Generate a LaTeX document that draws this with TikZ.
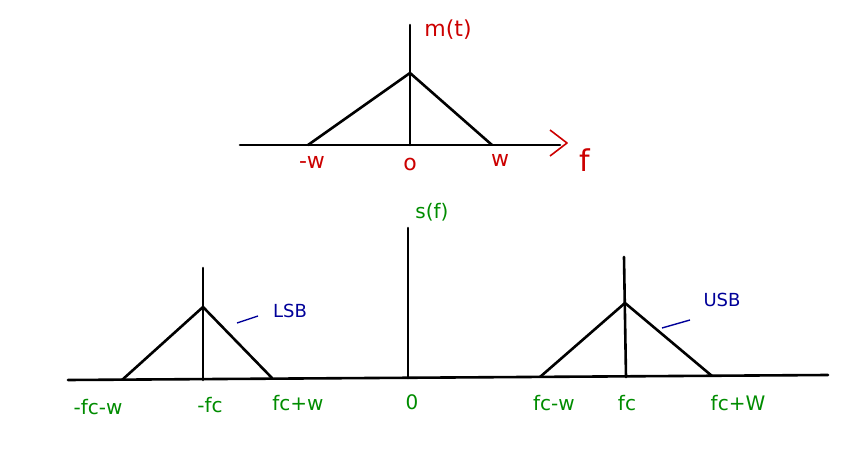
\documentclass[tikz,border=0pt]{standalone}
\usepackage{fontspec}
\setmainfont{DejaVu Sans}
\begin{document}
\begin{tikzpicture}[x=1pt,y=-1pt,
  ln/.style={line width=2.6pt,line join=round,line cap=round},
  rl/.style={text=red!80!black,font=\fontsize{22}{24}\selectfont},
  gl/.style={text=green!55!black,font=\fontsize{20}{22}\selectfont},
  bl/.style={text=blue!60!black,font=\fontsize{18}{20}\selectfont}]
\useasboundingbox (0,0) rectangle (860,449);
% top spectrum
\coordinate (ta) at (240,145); \coordinate (tb) at (560,145);
\draw[ln] (ta) -- (tb);
\coordinate (v1) at (410,25); \coordinate (v2) at (410,145);
\draw[ln] (v1) -- (v2);
\coordinate (t1) at (308,145); \coordinate (t2) at (410,73); \coordinate (t3) at (492,145);
\draw[ln] (t1) -- (t2) -- (t3);
\coordinate (r1) at (550,130); \coordinate (r2) at (567,143); \coordinate (r3) at (550,156);
\draw[red!80!black,line width=1.6pt,line join=round] (r1) -- (r2) -- (r3);
\node[rl,font=\fontsize{30}{32}\selectfont] (f) at (585,160) {f};
\node[rl] (m) at (448,30) {m(t)};
\node[rl] (mw) at (312,162) {-w};
\node[rl] (o) at (410,164) {o};
\node[rl] (w) at (500,160) {w};
% bottom spectrum
\coordinate (ba) at (68,380); \coordinate (bb) at (828,375);
\draw[ln] (ba) -- (bb);
\coordinate (c1) at (408,228); \coordinate (c2) at (408,378);
\draw[ln] (c1) -- (c2);
\coordinate (l1) at (122,380); \coordinate (l2) at (203,307); \coordinate (l3) at (272,378);
\draw[ln] (l1) -- (l2) -- (l3);
\coordinate (lv1) at (203,268); \coordinate (lv2) at (203,380);
\draw[ln] (lv1) -- (lv2);
\coordinate (u1) at (540,377); \coordinate (u2) at (625,303); \coordinate (u3) at (712,376);
\draw[ln] (u1) -- (u2) -- (u3);
\coordinate (uv1) at (624,257); \coordinate (uv2) at (626,377);
\draw[ln] (uv1) -- (uv2);
\coordinate (lb1) at (237,323); \coordinate (lb2) at (258,316);
\draw[blue!60!black,line width=1.4pt] (lb1) -- (lb2);
\node[bl] (lsb) at (290,311) {LSB};
\coordinate (ub1) at (662,328); \coordinate (ub2) at (690,320);
\draw[blue!60!black,line width=1.4pt] (ub1) -- (ub2);
\node[bl] (usb) at (722,300) {USB};
\node[gl] (s) at (432,212) {s(f)};
\node[gl] (g1) at (98,407) {-fc-w};
\node[gl] (g2) at (210,405) {-fc};
\node[gl] (g3) at (298,403) {fc+w};
\node[gl] (g4) at (412,402) {0};
\node[gl] (g5) at (554,403) {fc-w};
\node[gl] (g6) at (627,403) {fc};
\node[gl] (g7) at (738,403) {fc+W};
\end{tikzpicture}
\end{document}
